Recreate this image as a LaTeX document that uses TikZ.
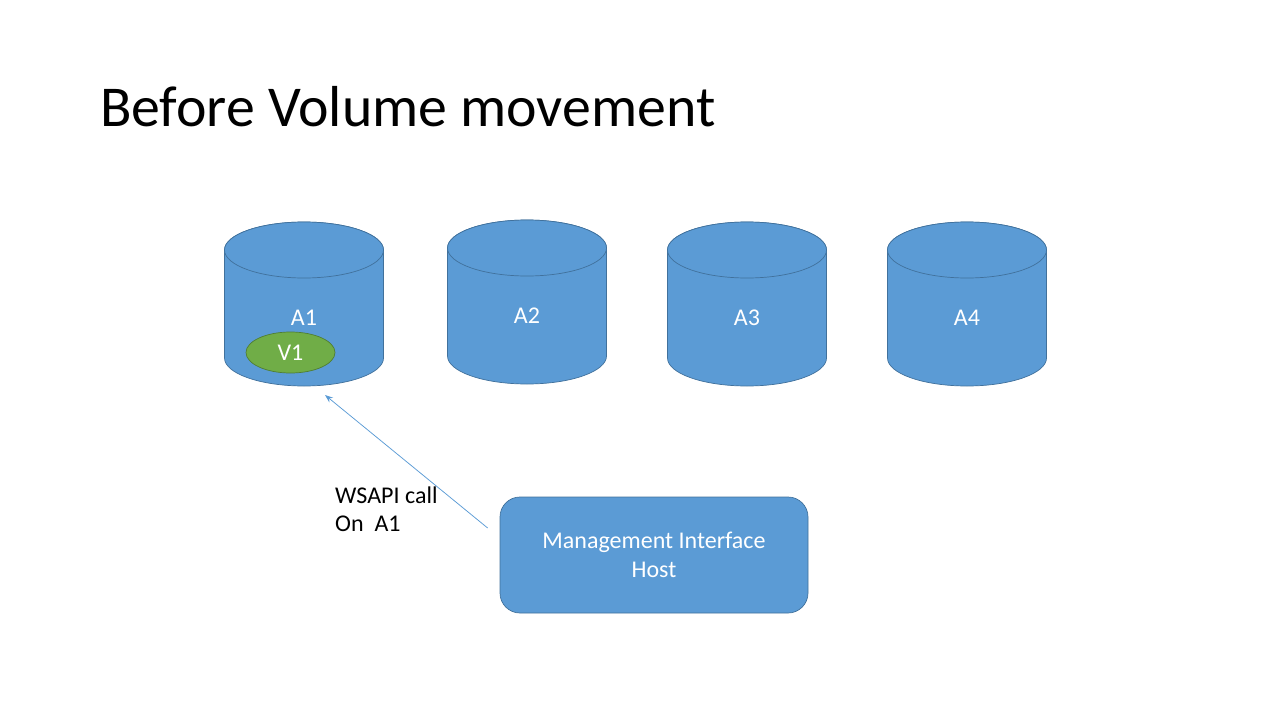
\documentclass[tikz,border=0pt]{standalone}
\usepackage{fontspec}
\setmainfont{Carlito}
\usetikzlibrary{arrows.meta, shapes.geometric, positioning}
\definecolor{drumblue}{HTML}{5B9BD5}
\definecolor{drumedge}{HTML}{41719C}
\definecolor{volgreen}{HTML}{70AD47}
\definecolor{voledge}{HTML}{507E32}

\begin{document}
\begin{tikzpicture}[x=1pt, y=1pt, >={Stealth[length=8pt, width=6pt]},
    lbl/.style={text=white, font=\fontsize{24}{29}\selectfont},
    drum/.style={fill=drumblue, draw=drumedge, line width=0.7pt}]
  \useasboundingbox (0,0) rectangle (1280,-720);
  \node[anchor=base west, inner sep=0, font=\fontsize{57.8}{70}\selectfont] (title) at (100,-126) {Before Volume movement};

  % the four arrays
  \foreach \cx/\cy/\name in {304/-250/A1, 527/-248/A2, 747/-250/A3, 967/-250/A4}{
    \filldraw[drum] (\cx-79.5,\cy) -- (\cx-79.5,\cy-108) arc (180:360:79.5 and 28) -- (\cx+79.5,\cy) arc (0:180:79.5 and 28);
    \filldraw[drum] (\cx,\cy) ellipse (79.5 and 28);
    \node[lbl] (\name) at (\cx,\cy-68) {\name};
  }
  \node[ellipse, fill=volgreen, draw=voledge, line width=0.7pt, minimum width=89, minimum height=41, inner sep=0, lbl] (V1) at (290.5,-352.5) {V1};

  \node[draw=drumedge, fill=drumblue, line width=0.7pt, rounded corners=20, minimum width=308, minimum height=116, align=center, lbl] (mih) at (654,-555) {Management Interface\\Host};

  \coordinate (callend) at (325,-395);
  \draw[->, drumblue, line width=0.75pt] ([xshift=-12, yshift=27]mih.west) -- (callend);
  \node[anchor=north west, inner sep=0, align=left, font=\fontsize{24}{28}\selectfont] (wsapi) at (335,-487) {WSAPI call\\On\ \ A1};
\end{tikzpicture}
\end{document}
